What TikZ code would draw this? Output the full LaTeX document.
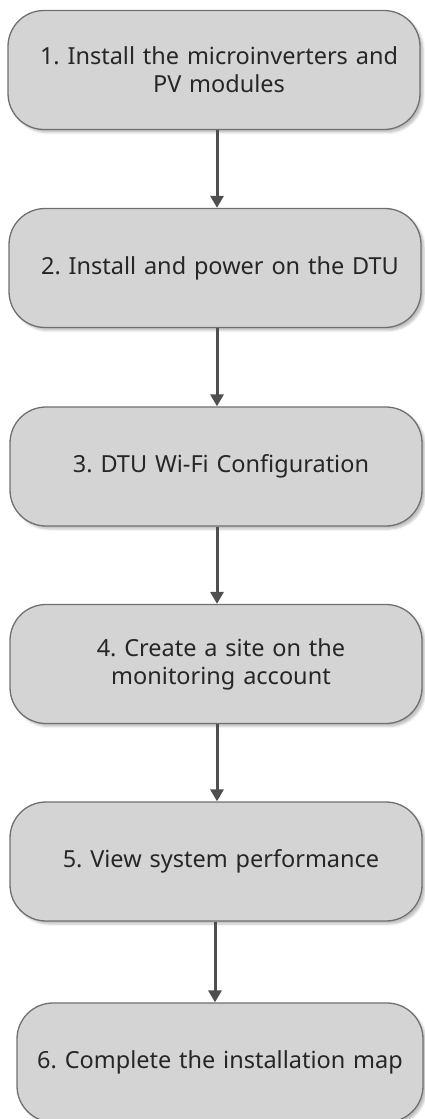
\documentclass[tikz,border=0pt]{standalone}
\usepackage{fontspec}
\setmainfont{Noto Sans}
\usepackage{xcolor}
\usetikzlibrary{arrows.meta,shadows.blur}
\definecolor{boxfill}{HTML}{D4D4D4}
\definecolor{boxline}{HTML}{707070}
\definecolor{flowline}{HTML}{4F4F4F}
\definecolor{textgray}{HTML}{262626}
\frenchspacing
\tikzset{
	stepbox/.style={
			draw=boxline, line width=1.3pt, fill=boxfill, rounded corners=36pt,
			minimum width=412pt, minimum height=119pt, inner xsep=10pt,
			text width=392pt, align=center,
			execute at begin node={\leftskip=10pt plus 1fil\rightskip=0pt plus 1fil\parfillskip=0pt},
			text=textgray, font=\fontsize{23.5}{28}\selectfont,
			blur shadow={shadow xshift=3pt, shadow yshift=-3pt, shadow opacity=25, shadow blur steps=4}
		},
	flow/.style={draw=flowline, line width=3pt, -{Triangle[length=12pt,width=13pt]}}
}

\begin{document}
\begin{tikzpicture}[x=1pt,y=1pt]
		\useasboundingbox (0,0) rectangle (424,-1119);

		% Steps
		\node[stepbox] (install) at (214,-70) {1. Install the microinverters and\\PV modules};
		\node[stepbox] (power) at (215,-268) {2. Install and power on the DTU};
		\node[stepbox] (wifi) at (216,-466.5) {3. DTU Wi-Fi Configuration};
		\node[stepbox] (site) at (216,-664) {4. Create a site on the\\monitoring account};
		\node[stepbox] (perf) at (216,-861.5) {5. View system performance};
		\node[stepbox, text width=386pt, minimum width=406pt,
			execute at begin node={\leftskip=0pt plus 1fil\rightskip=0pt plus 1fil\parfillskip=0pt}] (map) at (220,-1062.5) {6. Complete the installation map};

		% Arrows
		\draw[flow] (install.south -| 217,0) -- (power.north -| 217,0);
		\draw[flow] (power.south -| 217,0) -- (wifi.north -| 217,0);
		\draw[flow] (wifi.south -| 217,0) -- (site.north -| 217,0);
		\draw[flow] (site.south -| 217,0) -- (perf.north -| 217,0);
		\draw[flow] (perf.south -| 215,0) -- (map.north -| 215,0);
	\end{tikzpicture}
\end{document}
